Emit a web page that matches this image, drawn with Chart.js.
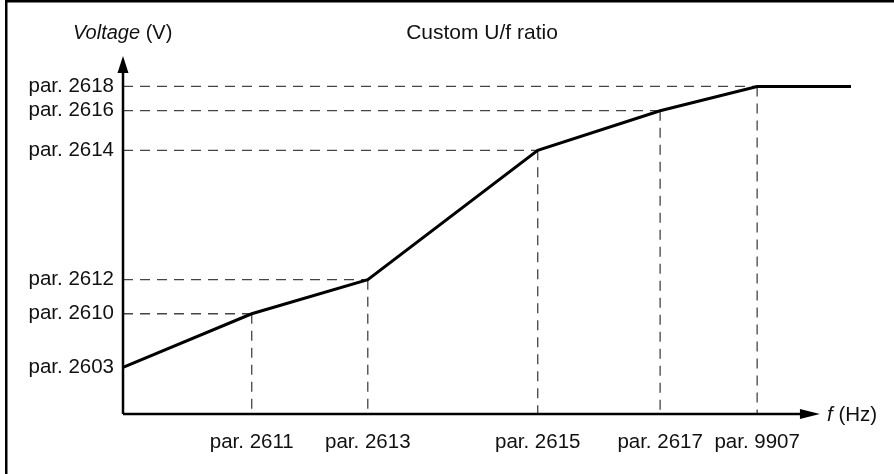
<!DOCTYPE html>
<html>
<head>
<meta charset="utf-8">
<script src="https://cdn.jsdelivr.net/npm/chart.js@4/dist/chart.umd.min.js"></script>
<style>
  html, body { margin: 0; padding: 0; background: #fff; }
  #wrap { width: 894px; height: 474px; position: relative; }
</style>
</head>
<body>
<div id="wrap"><canvas id="chart"></canvas></div>
<script>
// U/f curve break points (frequency and voltage as % of field weakening point)
const freqPoints = [0, 20.3, 38.6, 65.4, 84.7, 100, 114.8];
const voltPoints = [14.2, 30.6, 41.0, 80.5, 92.6, 100, 100];

// parameter names shown on the axes
const freqTicks = [20.3, 38.6, 65.4, 84.7, 100];
const freqTickLabels = ['par. 2611', 'par. 2613', 'par. 2615', 'par. 2617', 'par. 9907'];
const voltTicks = [14.2, 30.6, 41.0, 80.5, 92.6, 100];
const voltTickLabels = ['par. 2603', 'par. 2610', 'par. 2612', 'par. 2614', 'par. 2616', 'par. 2618'];

const FONT = 'Arial, "Liberation Sans", Helvetica, sans-serif';
const TEXT = '#111';
const SIZE = 20.5;

// axes with arrow heads, dashed guides, frame and captions
const diagramPlugin = {
    id: 'diagram',
    beforeDatasetsDraw(chart) {
        const { ctx, chartArea, scales: { x, y } } = chart;
        const x0 = x.getPixelForValue(0);
        const y0 = y.getPixelForValue(0);

        // dashed guides from each break point to the axes
        ctx.save();
        ctx.strokeStyle = '#444';
        ctx.lineWidth = 1.3;
        ctx.setLineDash([10, 7]);
        for (let i = 0; i < freqPoints.length - 1; i++) {
            const px = x.getPixelForValue(freqPoints[i]);
            const py = y.getPixelForValue(voltPoints[i]);
            if (px > x0 + 1) {
                ctx.beginPath();
                ctx.moveTo(x0, py);
                ctx.lineTo(px, py);
                ctx.stroke();
                ctx.beginPath();
                ctx.moveTo(px, py);
                ctx.lineTo(px, y0);
                ctx.stroke();
            }
        }
        ctx.restore();

        // axes
        const xEnd = x.getPixelForValue(109.9);
        const yEnd = chartArea.top;
        ctx.save();
        ctx.strokeStyle = '#000';
        ctx.fillStyle = '#000';
        ctx.lineWidth = 2.5;
        ctx.beginPath();
        ctx.moveTo(x0, y0);
        ctx.lineTo(x0, yEnd + 10);
        ctx.moveTo(x0, y0);
        ctx.lineTo(xEnd - 10, y0);
        ctx.stroke();

        ctx.beginPath();
        ctx.moveTo(x0, yEnd);
        ctx.lineTo(x0 - 5.5, yEnd + 17);
        ctx.lineTo(x0 + 5.5, yEnd + 17);
        ctx.closePath();
        ctx.fill();

        ctx.beginPath();
        ctx.moveTo(xEnd, y0);
        ctx.lineTo(xEnd - 20, y0 - 5);
        ctx.lineTo(xEnd - 20, y0 + 5);
        ctx.closePath();
        ctx.fill();
        ctx.restore();
    },
    afterDraw(chart) {
        const { ctx, width, height } = chart;
        ctx.save();

        // frame
        ctx.fillStyle = '#000';
        ctx.fillRect(5, 0, 2.5, height);
        ctx.fillRect(5, 0, width - 5, 2.5);

        ctx.fillStyle = TEXT;
        ctx.textBaseline = 'alphabetic';
        ctx.textAlign = 'left';

        // y axis caption
        ctx.font = 'italic 20px ' + FONT;
        ctx.fillText('Voltage', 73, 39);
        let w = ctx.measureText('Voltage').width;
        ctx.font = '20px ' + FONT;
        ctx.fillText(' (V)', 73 + w, 39);

        // title
        ctx.textAlign = 'center';
        ctx.font = '21px ' + FONT;
        ctx.fillText('Custom U/f ratio', 482, 39);

        // x axis caption
        ctx.textAlign = 'left';
        ctx.font = 'italic 20.5px ' + FONT;
        ctx.fillText('f', 827, 421);
        w = ctx.measureText('f').width;
        ctx.font = '20.5px ' + FONT;
        ctx.fillText(' (Hz)', 827 + w, 421);

        ctx.restore();
    }
};

new Chart(document.getElementById('chart'), {
    type: 'line',
    data: {
        datasets: [{
            data: freqPoints.map((f, i) => ({ x: f, y: voltPoints[i] })),
            borderColor: '#000',
            borderWidth: 3,
            pointRadius: 0,
            tension: 0,
            clip: false
        }]
    },
    options: {
        responsive: true,
        maintainAspectRatio: false,
        animation: false,
        layout: { padding: { top: 56, right: 43, bottom: 0, left: 0 } },
        plugins: {
            legend: { display: false },
            tooltip: { enabled: false }
        },
        scales: {
            x: {
                type: 'linear',
                min: 0,
                max: 114.8,
                grid: { display: false, drawTicks: false },
                border: { display: false },
                afterFit(scale) { scale.height = 60; },
                afterBuildTicks(scale) { scale.ticks = freqTicks.map(v => ({ value: v })); },
                ticks: {
                    autoSkip: false,
                    maxRotation: 0,
                    padding: 16,
                    color: TEXT,
                    font: { family: FONT, size: SIZE },
                    callback: (value, index) => freqTickLabels[index]
                }
            },
            y: {
                type: 'linear',
                min: 0,
                max: 109.3,
                grid: { display: false, drawTicks: false },
                border: { display: false },
                afterFit(scale) { scale.width = 123; },
                afterBuildTicks(scale) { scale.ticks = voltTicks.map(v => ({ value: v })); },
                ticks: {
                    autoSkip: false,
                    padding: 9,
                    color: TEXT,
                    font: { family: FONT, size: SIZE },
                    callback: (value, index) => voltTickLabels[index]
                }
            }
        }
    },
    plugins: [diagramPlugin]
});
</script>
</body>
</html>
